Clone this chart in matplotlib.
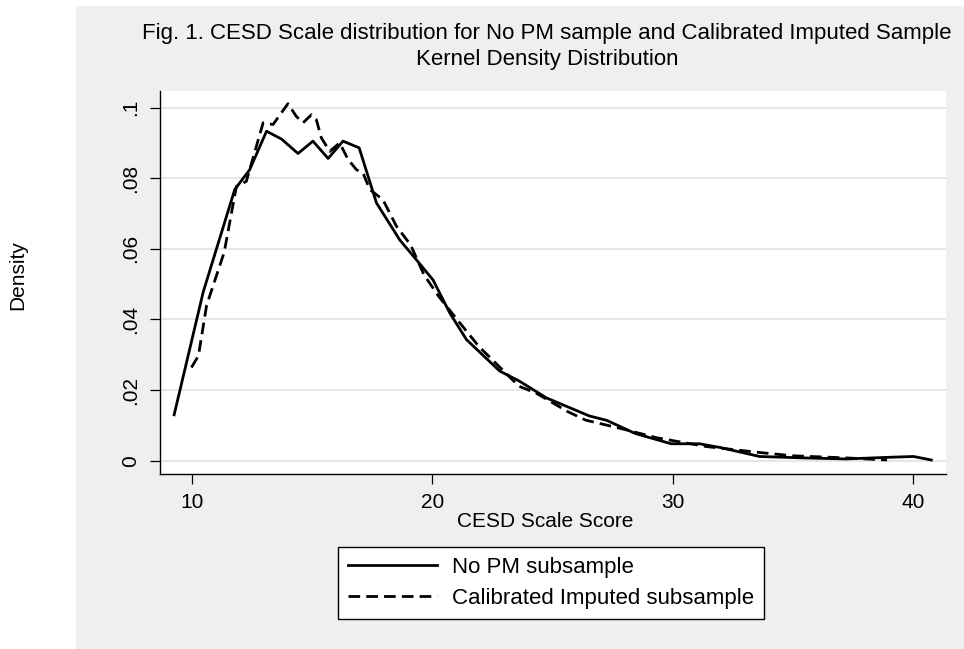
import matplotlib
matplotlib.use("Agg")
import matplotlib.pyplot as plt
from matplotlib.patches import Rectangle
from matplotlib.lines import Line2D

plt.rcParams["font.family"] = ["Liberation Sans", "DejaVu Sans"]

# Courbes (densite noyau)
score_nopm = [9.27, 10.48, 11.79, 12.41, 13.11, 13.73, 14.42, 15.04, 15.67,
              16.29, 16.96, 17.68, 18.65, 19.34, 20.03, 20.73, 21.42, 22.80,
              23.63, 24.74, 26.52, 27.26, 28.44, 29.93, 31.10, 32.00, 33.60,
              35.40, 37.20, 39.10, 40.00, 40.74]
dens_nopm = [0.0130, 0.0478, 0.0768, 0.0824, 0.0933, 0.0911, 0.0870, 0.0905,
             0.0856, 0.0905, 0.0886, 0.0730, 0.0625, 0.0569, 0.0512, 0.0418,
             0.0343, 0.0254, 0.0225, 0.0178, 0.0127, 0.0114, 0.0077, 0.0048,
             0.0048, 0.0037, 0.0012, 0.0008, 0.0005, 0.0010, 0.0012, 0.0002]

score_calib = [9.99, 10.28, 10.62, 11.35, 11.86, 12.27, 12.97, 13.38, 14.00,
               14.35, 14.63, 14.98, 15.18, 15.39, 15.74, 16.15, 16.50, 16.85,
               17.12, 17.40, 17.95, 18.51, 19.10, 19.65, 20.27, 21.03, 21.93,
               23.04, 23.60, 24.30, 25.63, 26.37, 27.85, 29.33, 30.07, 31.40,
               33.50, 34.96, 37.20, 38.90]
dens_calib = [0.0264, 0.0297, 0.0440, 0.0590, 0.0777, 0.0791, 0.0957, 0.0952,
              0.1011, 0.0975, 0.0957, 0.0980, 0.0966, 0.0914, 0.0876, 0.0900,
              0.0853, 0.0824, 0.0815, 0.0768, 0.0739, 0.0664, 0.0611, 0.0527,
              0.0465, 0.0400, 0.0324, 0.0249, 0.0211, 0.0192, 0.0139, 0.0115,
              0.0091, 0.0065, 0.0056, 0.0040, 0.0024, 0.0014, 0.0008, 0.0002]

xticks = [10, 20, 30, 40]
yticks = [0, 0.02, 0.04, 0.06, 0.08, 0.1]
ytick_labels = ["0", ".02", ".04", ".06", ".08", ".1"]

fig = plt.figure(figsize=(9.64, 6.49), dpi=100)
fig.patch.set_facecolor("white")

# fond gris de la zone du graphique
fig.patches.append(Rectangle((76 / 964, 0), 1 - 76 / 964, 1 - 6 / 649,
                             transform=fig.transFigure, facecolor="#efefef",
                             edgecolor="none", zorder=-1))

ax = fig.add_axes([0.166, 0.2696, 0.8158, 0.5902])
ax.set_zorder(1)
ax.set_facecolor("white")

ax.plot(score_nopm, dens_nopm, color="black", linewidth=2.0)
ax.plot(score_calib, dens_calib, color="black", linewidth=2.0,
        dashes=(4.2, 2.2))

ax.set_xlim(8.684, 41.37)
ax.set_ylim(-0.00377, 0.1047)

ax.set_xticks(xticks)
ax.set_yticks(yticks)
ax.set_yticklabels(ytick_labels, rotation=90, va="center")
ax.tick_params(axis="both", labelsize=15, length=7, width=0.9, color="black")
ax.tick_params(axis="x", pad=7)
ax.tick_params(axis="y", pad=7)

# grille horizontale grise
ax.grid(axis="y", color="#e6e6e6", linewidth=1.4)
ax.set_axisbelow(True)

for side in ["top", "right"]:
    ax.spines[side].set_visible(False)
for side in ["left", "bottom"]:
    ax.spines[side].set_linewidth(1.0)

ax.set_xlabel("CESD Scale Score", fontsize=15)
ax.xaxis.set_label_coords(0.49, -0.10)
fig.text(18 / 964, 1 - 275 / 649, "Density", rotation=90, fontsize=15,
         ha="center", va="center")

fig.text(547 / 964, 1 - 34 / 649,
         "Fig. 1. CESD Scale distribution for No PM sample and Calibrated Imputed Sample",
         fontsize=16, ha="center", va="center")
fig.text(547 / 964, 1 - 60 / 649, "Kernel Density Distribution",
         fontsize=16, ha="center", va="center")

handles = [Line2D([], [], color="black", linewidth=2.0),
           Line2D([], [], color="black", linewidth=2.0, dashes=(4.2, 2.2))]
leg = fig.legend(handles, ["No PM subsample", "Calibrated Imputed subsample"],
                 loc="upper center", bbox_to_anchor=(551 / 964, 1 - 547 / 649),
                 fontsize=16, frameon=True, fancybox=False, framealpha=1,
                 handlelength=4.0, handletextpad=0.7, labelspacing=0.45,
                 borderpad=0.45, borderaxespad=0)
leg.get_frame().set_edgecolor("black")
leg.get_frame().set_linewidth(1.0)

fig.savefig("out.png", dpi=100)
